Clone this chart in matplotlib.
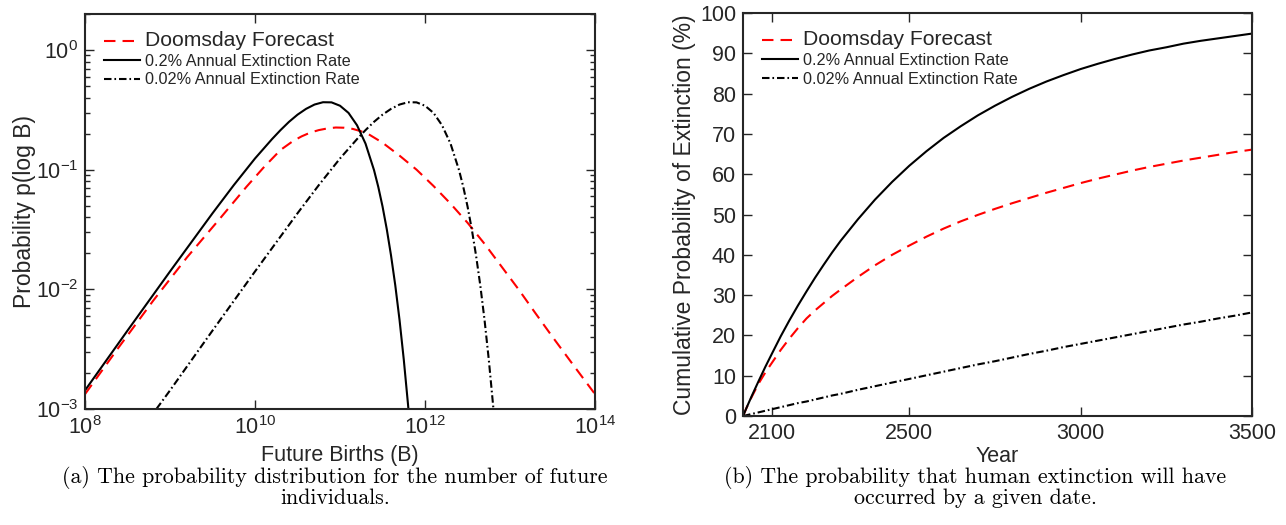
import numpy as np
import matplotlib
matplotlib.use("Agg")
import matplotlib.pyplot as plt
from matplotlib.ticker import LogLocator, NullLocator, FixedLocator

plt.rcParams['font.family'] = ['Liberation Sans', 'DejaVu Sans']
plt.rcParams['mathtext.fontset'] = 'custom'
plt.rcParams['mathtext.rm'] = 'Liberation Sans'
plt.rcParams['mathtext.it'] = 'Liberation Sans:italic'
plt.rcParams['mathtext.bf'] = 'Liberation Sans:bold'

TXT = '#262626'

# ---------------- Panel (a) data: future births (log10 B) vs p(log B) -------------
series_labels = ['Doomsday Forecast', '0.2% Annual Extinction Rate', '0.02% Annual Extinction Rate']

log10_births_doomsday = [8.0, 8.4, 8.8, 9.2, 9.6, 9.9, 10.1, 10.3, 10.45, 10.55, 10.65, 10.75,
                         10.85, 10.95, 11.05, 11.15, 11.25, 11.35, 11.5, 11.7, 11.9, 12.1,
                         12.3, 12.5, 12.7, 12.9, 13.1, 13.3, 13.5, 13.75, 14.0]
p_doomsday = [0.00133, 0.00330, 0.0080, 0.0185, 0.040, 0.072, 0.104, 0.146, 0.174, 0.190,
              0.204, 0.214, 0.221, 0.225, 0.224, 0.219, 0.209, 0.195, 0.168, 0.131, 0.100,
              0.073, 0.052, 0.036, 0.0240, 0.0155, 0.0100, 0.0063, 0.0040, 0.0023, 0.00133]

log10_births_rate02 = [8.0, 8.5, 9.0, 9.5, 9.75, 10.0, 10.2, 10.3, 10.4, 10.5, 10.6, 10.7,
                       10.8, 10.9, 11.0, 11.1, 11.2, 11.3, 11.4, 11.45, 11.5, 11.55, 11.6,
                       11.65, 11.7, 11.75, 11.8, 11.82]
p_rate02 = [0.00143, 0.00452, 0.0141, 0.0432, 0.0742, 0.124, 0.180, 0.214, 0.251, 0.288,
            0.322, 0.350, 0.366, 0.365, 0.342, 0.298, 0.235, 0.165, 0.0991, 0.0718, 0.0493,
            0.0318, 0.0192, 0.0108, 0.00556, 0.00259, 0.00109, 0.00075]

log10_births_rate002 = [8.84, 9.0, 9.5, 10.0, 10.5, 10.75, 11.0, 11.2, 11.3, 11.4, 11.5, 11.6,
                        11.7, 11.8, 11.9, 12.0, 12.1, 12.2, 12.3, 12.4, 12.45, 12.5, 12.55,
                        12.6, 12.65, 12.7, 12.75, 12.8, 12.82]
p_rate002 = [0.00100, 0.00143, 0.00452, 0.0141, 0.0432, 0.0742, 0.124, 0.180, 0.214, 0.251,
             0.288, 0.322, 0.350, 0.366, 0.365, 0.342, 0.298, 0.235, 0.165, 0.0991, 0.0718,
             0.0493, 0.0318, 0.0192, 0.0108, 0.00556, 0.00259, 0.00109, 0.00075]

xticks_a = [1e8, 1e10, 1e12, 1e14]
yticks_a = [1e-3, 1e-2, 1e-1, 1e0]

# ---------------- Panel (b) data: cumulative probability of extinction (%) -----------
years = [2015, 2025, 2040, 2060, 2080, 2100, 2125, 2150, 2175, 2200, 2225, 2250, 2275, 2300,
         2350, 2400, 2450, 2500, 2550, 2600, 2650, 2700, 2750, 2800, 2850, 2900, 2950, 3000,
         3050, 3100, 3150, 3200, 3250, 3300, 3350, 3400, 3450, 3500]
cum_doomsday = [0, 2.0, 4.7, 8.0, 10.8, 13.3, 16.4, 19.2, 21.8, 24.2, 26.2, 28.0, 29.8, 31.4,
                34.5, 37.4, 40.0, 42.3, 44.5, 46.5, 48.3, 49.9, 51.4, 52.8, 54.1, 55.4, 56.6,
                57.8, 58.9, 59.9, 60.9, 61.8, 62.6, 63.4, 64.1, 64.8, 65.5, 66.1]
cum_rate02 = [0, 2.0, 4.9, 8.6, 12.2, 15.6, 19.8, 23.7, 27.4, 30.9, 34.3, 37.5, 40.6, 43.5,
              48.8, 53.7, 58.1, 62.1, 65.7, 69.0, 71.9, 74.6, 77.0, 79.2, 81.2, 83.0, 84.6,
              86.1, 87.4, 88.6, 89.7, 90.7, 91.5, 92.4, 93.1, 93.7, 94.3, 94.9]
cum_rate002 = [0, 0.2, 0.5, 0.9, 1.3, 1.7, 2.2, 2.7, 3.2, 3.6, 4.1, 4.6, 5.1, 5.5,
               6.5, 7.4, 8.3, 9.2, 10.1, 11.0, 11.9, 12.8, 13.6, 14.5, 15.4, 16.2, 17.1,
               17.9, 18.7, 19.5, 20.3, 21.1, 21.9, 22.7, 23.4, 24.2, 24.9, 25.7]
xticks_b = [2100, 2500, 3000, 3500]
yticks_b = list(range(0, 101, 10))

captions = ['(a) The probability distribution for the number of future\nindividuals.',
            '(b) The probability that human extinction will have\noccurred by a given date.']

LW = 1.5
DASH = (5.5, 3.4)
DASHDOT = (3.6, 1.4, 0.8, 1.4)

fig = plt.figure(figsize=(12.86, 5.25), dpi=100)
axA = fig.add_axes([0.0661, 0.2210, 0.3966, 0.7524])
axB = fig.add_axes([0.5778, 0.2076, 0.3958, 0.7676])


def style_axes(ax):
    for s in ax.spines.values():
        s.set_color(TXT)
        s.set_linewidth(1.5)
    ax.tick_params(which='both', direction='in', top=True, right=True, colors=TXT,
                   labelcolor=TXT, width=1.0)
    ax.tick_params(which='major', length=6.5, labelsize=15.5, pad=5)
    ax.tick_params(which='minor', length=3.5)


def style_legend(leg):
    texts = leg.get_texts()
    texts[0].set_fontsize(15.2)
    for t in texts[1:]:
        t.set_fontsize(11.7)
    for t in texts:
        t.set_color(TXT)


# Panel (a)
bd = 10 ** np.array(log10_births_doomsday)
b2 = 10 ** np.array(log10_births_rate02)
b3 = 10 ** np.array(log10_births_rate002)
axA.plot(bd, p_doomsday, color='#ff0000', lw=LW, dashes=DASH, label=series_labels[0])
axA.plot(b2, p_rate02, color='black', lw=LW, ls='-', label=series_labels[1])
axA.plot(b3, p_rate002, color='black', lw=LW, dashes=DASHDOT, label=series_labels[2])
axA.set_xscale('log')
axA.set_yscale('log')
axA.set_xlim(1e8, 1e14)
axA.set_ylim(1e-3, 2.0)
axA.xaxis.set_major_locator(FixedLocator(xticks_a))
axA.xaxis.set_minor_locator(NullLocator())
axA.yaxis.set_major_locator(FixedLocator(yticks_a))
axA.yaxis.set_minor_locator(LogLocator(base=10, subs=np.arange(2, 10), numticks=20))
style_axes(axA)
axA.set_xlabel('Future Births (B)', fontsize=15.5, color=TXT, labelpad=4.5)
axA.set_ylabel('Probability p(log B)', fontsize=16.5, color=TXT, labelpad=0)
legA = axA.legend(loc='upper left', bbox_to_anchor=(0.015, 0.985), frameon=False,
                  handlelength=2.2, handletextpad=0.3, labelspacing=0.22, borderaxespad=0.3,
                  fontsize=11.7)
style_legend(legA)

# Panel (b)
axB.plot(years, cum_doomsday, color='#ff0000', lw=LW, dashes=DASH, label=series_labels[0])
axB.plot(years, cum_rate02, color='black', lw=LW, ls='-', label=series_labels[1])
axB.plot(years, cum_rate002, color='black', lw=LW, dashes=DASHDOT, label=series_labels[2])
axB.set_xlim(2015, 3500)
axB.set_ylim(0, 100)
axB.set_xticks(xticks_b)
axB.set_yticks(yticks_b)
style_axes(axB)
axB.set_xlabel('Year', fontsize=15.5, color=TXT, labelpad=1.5)
axB.set_ylabel('Cumulative Probability of Extinction (%)', fontsize=16.5, color=TXT, labelpad=3)
legB = axB.legend(loc='upper left', bbox_to_anchor=(0.015, 0.985), frameon=False,
                  handlelength=2.2, handletextpad=0.3, labelspacing=0.22, borderaxespad=0.3,
                  fontsize=11.7)
style_legend(legB)

fig.text(335 / 1286, 1 - 487 / 525, captions[0], ha='center', va='center', fontsize=15.8,
         family='cmr10', color='black', linespacing=0.95)
fig.text(975 / 1286, 1 - 487 / 525, captions[1], ha='center', va='center', fontsize=15.8,
         family='cmr10', color='black', linespacing=0.95)

fig.savefig('out.png', dpi=100)
